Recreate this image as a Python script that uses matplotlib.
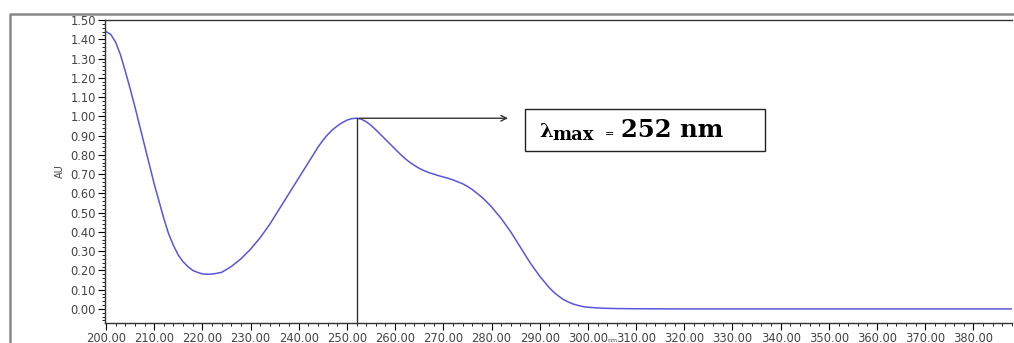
import numpy as np
import matplotlib.pyplot as plt
from matplotlib.lines import Line2D
from matplotlib.patches import Rectangle
from matplotlib.ticker import MultipleLocator, FormatStrFormatter

# UV spectrum (nm, AU), 1 nm steps up to 300 nm
wavelength = list(range(200, 301)) + [302, 304, 306, 310, 320, 340, 360, 380, 388]
absorbance = [
    1.44, 1.425, 1.385, 1.32, 1.235, 1.145, 1.05, 0.95, 0.85, 0.75,   # 200-209
    0.65, 0.56, 0.47, 0.39, 0.33, 0.28, 0.245, 0.22, 0.20, 0.19,  # 210-219
    0.182, 0.18, 0.181, 0.185, 0.19, 0.205, 0.22, 0.24, 0.26, 0.285,  # 220-229
    0.31, 0.34, 0.37, 0.405, 0.44, 0.48, 0.52, 0.56, 0.60, 0.64,  # 230-239
    0.68, 0.72, 0.76, 0.80, 0.84, 0.875, 0.905, 0.93, 0.95, 0.967,  # 240-249
    0.98, 0.988, 0.99, 0.985, 0.972, 0.953, 0.93, 0.905, 0.88, 0.855,  # 250-259
    0.83, 0.805, 0.782, 0.762, 0.745, 0.73, 0.718, 0.708, 0.70, 0.692,  # 260-269
    0.685, 0.678, 0.67, 0.66, 0.65, 0.636, 0.62, 0.60, 0.58, 0.556,  # 270-279
    0.53, 0.50, 0.47, 0.435, 0.40, 0.36, 0.32, 0.28, 0.24, 0.205,  # 280-289
    0.17, 0.14, 0.11, 0.085, 0.065, 0.048, 0.035, 0.025, 0.018, 0.012,  # 290-299
    0.009,  # 300
    0.005, 0.003, 0.002, 0.001, 0.0, 0.0, 0.0, 0.0, 0.0,
]

lam_max = 252
peak = 0.99
arrow_end = 284

W, H = 1014, 343
fig = plt.figure(figsize=(W / 100, H / 100), dpi=100)
ax = fig.add_axes([105 / W, 1 - 323 / H, (1012 - 105) / W, (323 - 20) / H])

ax.plot(wavelength, absorbance, color='#5a55dd', linewidth=1.1)

ax.set_xlim(199.8, 388)
ax.set_ylim(-0.073, 1.5)

ax.xaxis.set_major_locator(MultipleLocator(10))
ax.xaxis.set_minor_locator(MultipleLocator(2))
ax.yaxis.set_major_locator(MultipleLocator(0.1))
ax.yaxis.set_minor_locator(MultipleLocator(0.02))
ax.xaxis.set_major_formatter(FormatStrFormatter('%.2f'))
ax.yaxis.set_major_formatter(FormatStrFormatter('%.2f'))
ax.tick_params(axis='both', which='major', labelsize=8.3, labelcolor='#444444',
               length=5, width=0.8, direction='out', pad=1.5)
ax.tick_params(axis='both', which='minor', length=2.5, width=0.6, direction='out')
ax.spines['right'].set_visible(False)
for s in ['left', 'bottom', 'top']:
    ax.spines[s].set_linewidth(1.0)
    ax.spines[s].set_color('#333333')

ax.set_ylabel('AU', fontsize=7, color='#444444', labelpad=4)
# x axis title sits at the very bottom, mostly cut off in the original
fig.text(612 / W, 0.0, 'nm', fontsize=4.5, color='#444444', ha='center', va='bottom')

# lambda max marker
ax.plot([lam_max, lam_max], [-0.073, peak], color='#333333', linewidth=1.0, clip_on=False)
ax.annotate('', xy=(arrow_end, peak), xytext=(lam_max, peak),
            arrowprops=dict(arrowstyle='->', color='#333333', lw=1.0))

# text box
fig.add_artist(Rectangle((525 / W, 1 - 151 / H), 240 / W, 42 / H,
                         transform=fig.transFigure, fill=False,
                         edgecolor='#222222', linewidth=1.0))
fig.text(539 / W, 1 - 137 / H, 'λ', fontsize=14, fontweight='bold',
         family='DejaVu Serif', va='baseline')
fig.text(552 / W, 1 - 140 / H, 'max', fontsize=13, fontweight='bold',
         family='DejaVu Serif', va='baseline')
fig.text(605 / W, 1 - 137 / H, '=', fontsize=8, family='DejaVu Serif', va='baseline')
fig.text(621 / W, 1 - 137 / H, '252 nm', fontsize=17.5, fontweight='bold',
         family='DejaVu Serif', va='baseline')

# outer gray frame
fig.add_artist(Line2D([10 / W, 10 / W, 1.0], [0.0, 1 - 14 / H, 1 - 14 / H],
                      transform=fig.transFigure, color='#888888', linewidth=1.8))

fig.savefig('out.png', dpi=100)
